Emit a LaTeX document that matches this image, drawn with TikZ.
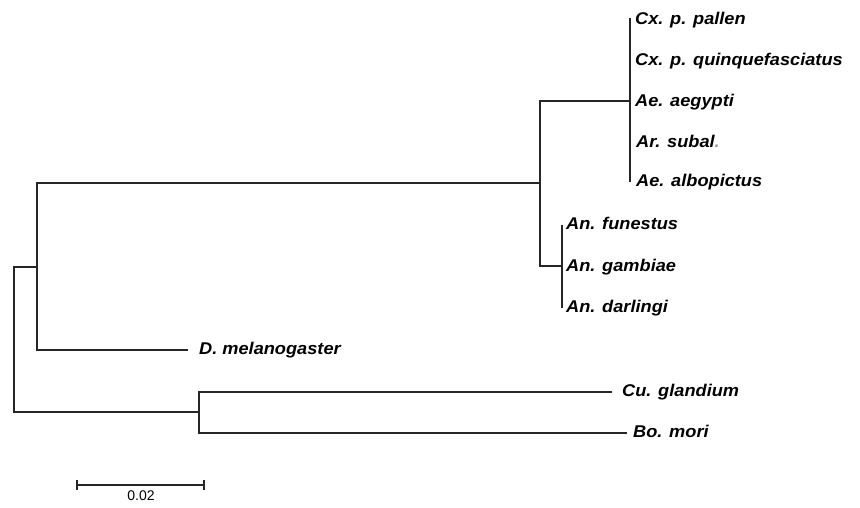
\documentclass[tikz,border=0pt]{standalone}
\usepackage{fontspec}
\setmainfont{Liberation Sans}
\newfontfamily\taxonfont[FakeStretch=1.07]{Liberation Sans}
\begin{document}
\begin{tikzpicture}[x=1pt,y=-1pt,
  branch/.style={line width=1.2pt,black!85},
  taxon/.style={anchor=west,inner sep=0pt,yshift=-2pt,
                font=\taxonfont\fontsize{17}{18}\selectfont\bfseries\itshape,
                text height=1.5ex,text depth=.3ex},
  scalelbl/.style={inner sep=0pt,font=\fontsize{14}{15}\selectfont}]
\useasboundingbox (0,0) rectangle (860,507);

% internal nodes
\coordinate (root) at (14,340);
\coordinate (n1) at (37,267);
\coordinate (n2) at (540,183);
\coordinate (n3) at (630,101);
\coordinate (n4) at (562,266);
\coordinate (n5) at (199,412);

% mosquito clade (Culicinae)
\coordinate (c1) at (630,18);
\coordinate (c5) at (630,182);
\node[taxon] (cxpal) at (635,19)  {Cx. p. pallen};
\node[taxon] (cxqui) at (635,60)  {Cx. p. quinquefasciatus};
\node[taxon] (aeaeg) at (635,101) {Ae. aegypti};
\node[taxon] (arsub) at (636,142) {Ar. subal\textcolor{black!40}{.}};
\node[taxon] (aealb) at (636,181) {Ae. albopictus};

% Anopheles clade
\coordinate (a1) at (562,225);
\coordinate (a3) at (562,308);
\node[taxon] (anfun) at (566,224) {An. funestus};
\node[taxon] (angam) at (566,266) {An. gambiae};
\node[taxon] (andar) at (566,307) {An. darlingi};

% outgroups
\coordinate (tD) at (188,350);
\node[taxon] (dmel) at (199,349) {D. melanogaster};
\coordinate (tCu) at (612,392);
\node[taxon] (cugl) at (622,391) {Cu. glandium};
\coordinate (tBo) at (627,433);
\node[taxon] (bomo) at (633,432) {Bo. mori};

% branches
\draw[branch] (root) |- (n1);
\draw[branch] (root) |- (n5);
\draw[branch] (n1) |- (n2);
\draw[branch] (n1) |- (tD);
\draw[branch] (n2) |- (n3);
\draw[branch] (n2) |- (n4);
\draw[branch] (c1) -- (c5);
\draw[branch] (a1) -- (a3);
\draw[branch] (n5) |- (tCu);
\draw[branch] (n5) |- (tBo);

% scale bar
\coordinate (s0) at (77,485);
\coordinate (s1) at (204,485);
\draw[branch] (s0) -- (s1);
\draw[branch] ([yshift=-5]s0) -- ([yshift=5]s0);
\draw[branch] ([yshift=-5]s1) -- ([yshift=5]s1);
\node[scalelbl,anchor=north] (sl) at (141,491) {0.02};
\end{tikzpicture}
\end{document}
